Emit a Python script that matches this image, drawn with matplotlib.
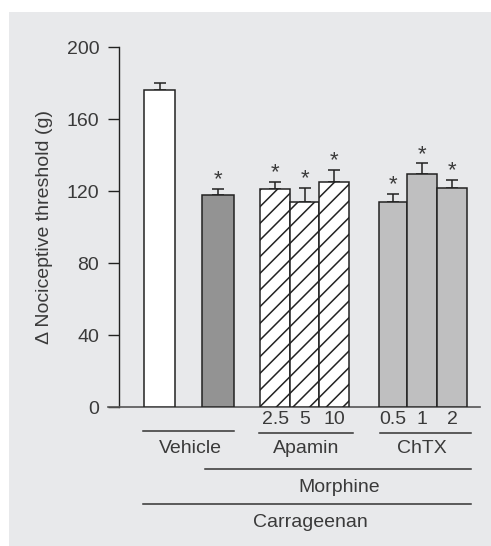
import numpy as np
import matplotlib as mpl
import matplotlib.pyplot as plt
from matplotlib.patches import Rectangle

# data
groups = ['Vehicle', 'Morphine', 'Apamin', 'Apamin', 'Apamin', 'ChTX', 'ChTX', 'ChTX']
means = [176.5, 118.0, 121.4, 114.1, 125.0, 114.2, 129.6, 122.0]
sems = [3.5, 3.3, 3.9, 7.9, 7.0, 4.3, 6.0, 4.3]
signif = [False, True, True, True, True, True, True, True]
doses = ['', '', '2.5', '5', '10', '0.5', '1', '2']

# layout (x in axis units, y-axis at 0)
lefts = [25.3, 83.0, 141.3, 171.0, 200.3, 260.3, 288.3, 318.3]
widths = [30.4, 32.3, 29.7, 29.3, 30.0, 28.0, 30.0, 30.2]
colors = ['white', '#939393', 'white', 'white', 'white', '#bfbfc0', '#bfbfc0', '#bfbfc0']
hatches = ['', '', '//', '//', '//', '', '', '']

txt = '#3a3a3a'
plt.rcParams['font.family'] = ['Liberation Sans', 'DejaVu Sans']
plt.rcParams['font.size'] = 14
plt.rcParams['hatch.linewidth'] = 1.1
plt.rcParams['hatch.color'] = '#222222'

fig = plt.figure(figsize=(4.91, 5.46), dpi=100)
fig.patch.set_facecolor('white')
fig.patches.append(Rectangle((9.3/491, 0), 1, 1 - 11.7/546, transform=fig.transFigure,
                             facecolor='#e8e9eb', edgecolor='none', zorder=-5))

ax = fig.add_axes([108.3/491, 1 - 407.3/546, 371.7/491, 360/546])
ax.set_facecolor('none')

centers = [l + w/2 for l, w in zip(lefts, widths)]
for i in range(len(means)):
    ax.bar(lefts[i], means[i], width=widths[i], align='edge', color=colors[i],
           edgecolor='#222222', linewidth=1.1, hatch=hatches[i], zorder=3)
    ax.errorbar(centers[i], means[i], yerr=[[0], [sems[i]]], fmt='none',
                ecolor='#222222', elinewidth=1.1, capsize=4.3, capthick=1.1, zorder=2)
    if signif[i]:
        ax.annotate('*', (centers[i], means[i] + sems[i]), xytext=(0, 2.5),
                    textcoords='offset points', ha='center', va='baseline',
                    color=txt, fontsize=16, annotation_clip=False)

ax.set_xlim(-10.7, 361)
ax.set_ylim(0, 200)
ax.set_yticks([0, 40, 80, 120, 160, 200])
ax.tick_params(axis='y', length=7.7, width=1, colors='#222222', labelcolor=txt, pad=6.5, labelsize=14)
ax.set_xticks(centers[2:])
ax.set_xticklabels(doses[2:])
ax.tick_params(axis='x', length=0, labelcolor=txt, pad=3, labelsize=14)
for s in ['top', 'right']:
    ax.spines[s].set_visible(False)
ax.spines['left'].set_position(('data', 0))
ax.spines['left'].set_color('#222222')
ax.spines['bottom'].set_color('#555555')
ax.spines['left'].set_linewidth(1)
ax.spines['bottom'].set_linewidth(1.2)

ax.set_ylabel('\u0394 Nociceptive threshold (g)', color=txt, fontsize=14)
ax.yaxis.label.set_va('center')
ax.yaxis.set_label_coords((44.5 - 108.3)/371.7, 0.5)

# group labels beneath the axis
lines = [(24.3, 115.3, -13.0), (140.3, 233.7, -14.3), (261.0, 351.7, -14.3),
         (86.0, 352.3, -34.1), (24.3, 352.0, -53.7)]
labels = [('Vehicle', 71.8, -22.8), ('Apamin', 187.5, -22.8), ('ChTX', 302.7, -22.8),
          ('Morphine', 219.8, -44.7), ('Carrageenan', 191.3, -63.9)]
for x0, x1, y in lines:
    ax.plot([x0, x1], [y, y], color='#333333', lw=1.1, clip_on=False)
for s, x, y in labels:
    ax.text(x, y, s, ha='center', va='center', color=txt, fontsize=14)

fig.savefig('out.png', dpi=100)
